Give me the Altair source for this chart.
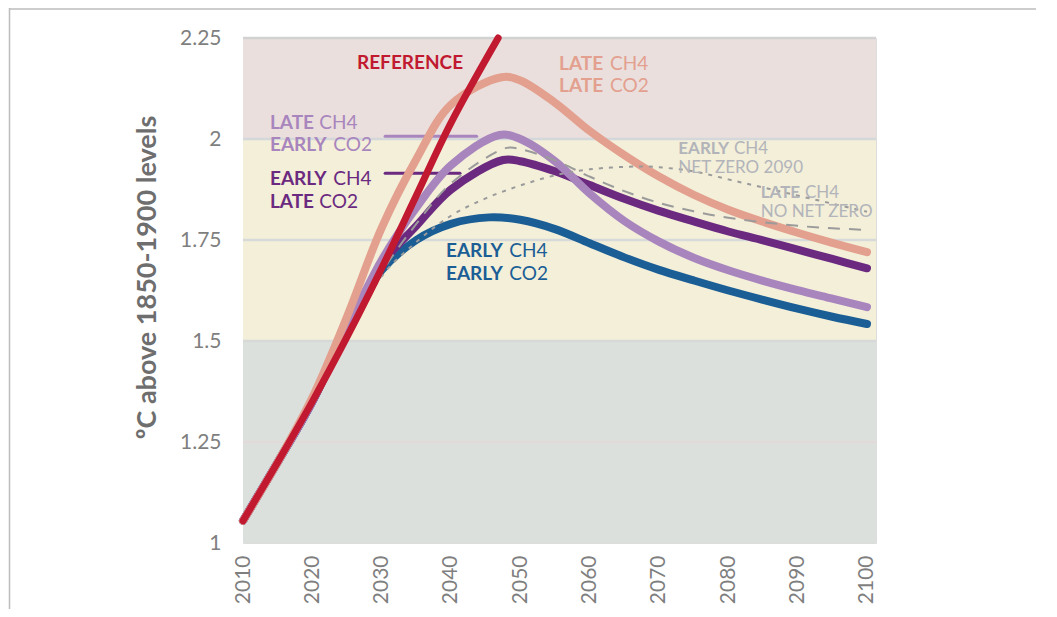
import altair as alt
import pandas as pd

# ---------------- data ----------------
BLUE_YEARS = [2010, 2015, 2020, 2025, 2030, 2035, 2040, 2045.5, 2050, 2055,
              2060, 2065, 2070, 2075, 2080, 2085, 2090, 2095, 2100]
EARLY_CH4_EARLY_CO2 = [1.055, 1.20, 1.35, 1.53, 1.675, 1.75, 1.79, 1.806, 1.80, 1.777,
                       1.742, 1.707, 1.676, 1.65, 1.625, 1.602, 1.58, 1.56, 1.542]

PURPLE_YEARS = [2010, 2015, 2020, 2025, 2030, 2035, 2040, 2047.5, 2050, 2055,
                2060, 2065, 2070, 2075, 2080, 2085, 2090, 2095, 2100]
EARLY_CH4_LATE_CO2 = [1.055, 1.20, 1.35, 1.53, 1.69, 1.785, 1.875, 1.948, 1.945, 1.92,
                      1.886, 1.852, 1.822, 1.796, 1.771, 1.749, 1.726, 1.703, 1.68]

LILAC_YEARS = [2010, 2015, 2020, 2025, 2030, 2035, 2040, 2047, 2050, 2055,
               2060, 2065, 2070, 2075, 2080, 2085, 2090, 2095, 2100]
LATE_CH4_EARLY_CO2 = [1.055, 1.20, 1.35, 1.53, 1.70, 1.83, 1.935, 2.01, 2.0, 1.945,
                      1.865, 1.797, 1.746, 1.706, 1.675, 1.649, 1.626, 1.605, 1.584]

SALMON_YEARS = [2010, 2015, 2020, 2025, 2030, 2035, 2040, 2047.3, 2050, 2055,
                2060, 2065, 2070, 2075, 2080, 2085, 2090, 2095, 2100]
LATE_CH4_LATE_CO2 = [1.055, 1.20, 1.36, 1.56, 1.78, 1.95, 2.085, 2.153, 2.145, 2.09,
                     2.02, 1.96, 1.907, 1.862, 1.825, 1.795, 1.768, 1.743, 1.72]

DASH_YEARS = [2010, 2015, 2020, 2025, 2030, 2035, 2040, 2048, 2050, 2055,
              2060, 2065, 2070, 2075, 2080, 2085, 2090, 2095, 2100]
LATE_CH4_NO_NET_ZERO = [1.055, 1.20, 1.35, 1.52, 1.67, 1.79, 1.89, 1.978, 1.975, 1.947,
                        1.907, 1.871, 1.842, 1.821, 1.805, 1.794, 1.785, 1.779, 1.775]

DOT_YEARS = [2010, 2015, 2020, 2025, 2030, 2035, 2040, 2045, 2050, 2055,
             2060, 2067, 2070, 2075, 2080, 2085, 2090, 2095, 2100]
EARLY_CH4_NET_ZERO_2090 = [1.055, 1.20, 1.35, 1.50, 1.66, 1.745, 1.81, 1.853, 1.885, 1.91,
                           1.925, 1.932, 1.93, 1.92, 1.90, 1.88, 1.86, 1.84, 1.82]

REFERENCE_YEARS = [2010, 2015, 2020, 2025, 2030, 2035, 2040, 2046.8]
REFERENCE = [1.055, 1.20, 1.35, 1.51, 1.68, 1.86, 2.04, 2.25]

# connector lines from the side labels to their curves
CONNECTOR_LILAC_YEARS = [2030.5, 2043.7]
CONNECTOR_LILAC = [2.007, 2.007]
CONNECTOR_PURPLE_YEARS = [2030.5, 2041.3]
CONNECTOR_PURPLE = [1.915, 1.915]

X_TICKS = [2010, 2020, 2030, 2040, 2050, 2060, 2070, 2080, 2090, 2100]
Y_TICKS = [1, 1.25, 1.5, 1.75, 2, 2.25]
X_DOMAIN = [2010, 2101.3]
Y_DOMAIN = [1, 2.25]

BAND_LO = [1.0, 1.5, 2.0]
BAND_HI = [1.5, 2.0, 2.25]
BAND_COLORS = ["#DCE0DC", "#F3EFD9", "#EADFDC"]

GRID_VALUES = [1.25, 1.5, 1.75, 2.0, 2.25]
GRID_COLORS = ["#E2D9D9", "#D6D9D8", "#D8DADA", "#D4D8DB", "#D2D2D2"]

C_RED = "#C1192F"
C_SALMON = "#E3A08F"
C_LILAC = "#A985BE"
C_PURPLE = "#6B2A80"
C_BLUE = "#1B5E96"
C_GRAY = "#9B9B9B"
C_GRAYTXT = "#B2B4BA"

# label pieces: text, x (year), y (value), colour, bold, size
LBL_TEXT = ["REFERENCE",
            "LATE", "CH4", "LATE", "CO2",
            "LATE", "CH4", "EARLY", "CO2",
            "EARLY", "CH4", "LATE", "CO2",
            "EARLY", "CH4", "EARLY", "CO2",
            "EARLY", "CH4", "NET ZERO 2090",
            "LATE", "CH4", "NO NET ZERO"]
LBL_X = [2026.44,
         2055.58, 2062.94, 2055.58, 2062.94,
         2013.89, 2021.0, 2013.89, 2023.02,
         2013.89, 2023.02, 2013.89, 2021.0,
         2039.28, 2048.41, 2039.28, 2048.41,
         2072.79, 2080.82, 2072.79,
         2084.67, 2091.06, 2084.67]
LBL_Y = [2.188,
         2.186, 2.186, 2.131, 2.131,
         2.040, 2.040, 1.985, 1.985,
         1.900, 1.900, 1.845, 1.845,
         1.722, 1.722, 1.666, 1.666,
         1.975, 1.975, 1.9275,
         1.866, 1.866, 1.819]
LBL_COLOR = [C_RED] + [C_SALMON] * 4 + [C_LILAC] * 4 + [C_PURPLE] * 4 + [C_BLUE] * 4 + [C_GRAYTXT] * 6
LBL_BOLD = [True,
            True, False, True, False,
            True, False, True, False,
            True, False, True, False,
            True, False, True, False,
            True, False, False,
            True, False, False]
LBL_SIZE = [19] * 17 + [17] * 6

FONT = "Lato"
W, H = 633, 505
PAD_L, PAD_T = 235, 30

# ---------------- chart ----------------
xs = alt.Scale(domain=X_DOMAIN, nice=False, zero=False)
ys = alt.Scale(domain=Y_DOMAIN, nice=False, zero=False)

bands = pd.DataFrame({"lo": BAND_LO, "hi": BAND_HI, "c": BAND_COLORS,
                      "x0": [X_DOMAIN[0]] * 3, "x1": [X_DOMAIN[1]] * 3})
band_layer = alt.Chart(bands).mark_rect().encode(
    x=alt.X("x0:Q", scale=xs,
            axis=alt.Axis(values=X_TICKS, format="d", labelAngle=-90, title=None,
                          ticks=False, domain=False, grid=False, labelPadding=12,
                          labelFontSize=21, labelColor="#7F7F7F", labelFont=FONT)),
    x2="x1:Q",
    y=alt.Y("lo:Q", scale=ys,
            axis=alt.Axis(values=Y_TICKS, labelExpr="format(datum.value, '.3~g')",
                          ticks=False, domain=False, grid=False,
                          labelPadding=22, labelFontSize=21, labelColor="#7F7F7F",
                          labelFont=FONT, title="ºC above 1850-1900 levels",
                          titleFont=FONT, titleFontSize=27, titleFontWeight="bold",
                          titleColor="#6E6E6E", titleAngle=-90, titleX=-96, titleY=239,
                          titleAlign="center", titleBaseline="middle")),
    y2="hi:Q",
    color=alt.Color("c:N", scale=None),
)

grid = pd.DataFrame({"v": GRID_VALUES, "c": GRID_COLORS,
                     "x0": [X_DOMAIN[0]] * len(GRID_VALUES),
                     "x1": [X_DOMAIN[1]] * len(GRID_VALUES)})
grid_layer = alt.Chart(grid).mark_rule(strokeWidth=2.5).encode(
    x=alt.X("x0:Q", scale=xs), x2="x1:Q",
    y=alt.Y("v:Q", scale=ys), color=alt.Color("c:N", scale=None))


def line_layer(xv, yv, color, width, dash=None):
    df = pd.DataFrame({"year": xv, "v": yv})
    kw = dict(color=color, strokeWidth=width, strokeCap="round",
              strokeJoin="round", interpolate="catmull-rom")
    if dash is not None:
        kw["strokeDash"] = dash
        kw["strokeCap"] = "butt"
    return alt.Chart(df).mark_line(**kw).encode(
        x=alt.X("year:Q", scale=xs), y=alt.Y("v:Q", scale=ys))


layers = [band_layer, grid_layer,
          line_layer(CONNECTOR_LILAC_YEARS, CONNECTOR_LILAC, C_LILAC, 3),
          line_layer(CONNECTOR_PURPLE_YEARS, CONNECTOR_PURPLE, C_PURPLE, 3),
          line_layer(BLUE_YEARS, EARLY_CH4_EARLY_CO2, C_BLUE, 8),
          line_layer(PURPLE_YEARS, EARLY_CH4_LATE_CO2, C_PURPLE, 8),
          line_layer(LILAC_YEARS, LATE_CH4_EARLY_CO2, C_LILAC, 8),
          line_layer(SALMON_YEARS, LATE_CH4_LATE_CO2, C_SALMON, 8),
          line_layer(DASH_YEARS, LATE_CH4_NO_NET_ZERO, C_GRAY, 2, [12, 9]),
          line_layer(DOT_YEARS, EARLY_CH4_NET_ZERO_2090, C_GRAY, 2, [4, 6]),
          line_layer(REFERENCE_YEARS, REFERENCE, C_RED, 7)]

labels = pd.DataFrame({"t": LBL_TEXT, "x": LBL_X, "y": LBL_Y, "c": LBL_COLOR,
                       "b": LBL_BOLD, "s": LBL_SIZE})
for bold in (True, False):
    sub = labels[labels["b"] == bold]
    for size in sorted(sub["s"].unique()):
        part = sub[sub["s"] == size]
        layers.append(
            alt.Chart(part).mark_text(align="left", baseline="middle", font=FONT,
                                      fontSize=int(size),
                                      fontWeight="bold" if bold else "normal").encode(
                x=alt.X("x:Q", scale=xs), y=alt.Y("y:Q", scale=ys),
                text="t:N", color=alt.Color("c:N", scale=None)))

# picture frame (top and left border of the original figure)
frame_top = alt.Chart(pd.DataFrame({"a": [0]})).mark_rule(color="#BDBDBD", strokeWidth=1.5).encode(
    x=alt.value(-PAD_L + 1), x2=alt.value(W + 200), y=alt.value(-PAD_T + 1))
frame_left = alt.Chart(pd.DataFrame({"a": [0]})).mark_rule(color="#BDBDBD", strokeWidth=1.5).encode(
    x=alt.value(-PAD_L + 1.5), y=alt.value(-PAD_T), y2=alt.value(H + 100))
layers += [frame_top, frame_left]

chart = alt.layer(*layers).properties(
    width=W, height=H,
    autosize=alt.AutoSizeParams(type="none"),
    padding={"left": PAD_L, "top": PAD_T, "right": 160, "bottom": 66},
).configure_view(stroke=None).configure(background="white")

chart.save("out.html", embed_options={"renderer": "svg", "actions": False})
